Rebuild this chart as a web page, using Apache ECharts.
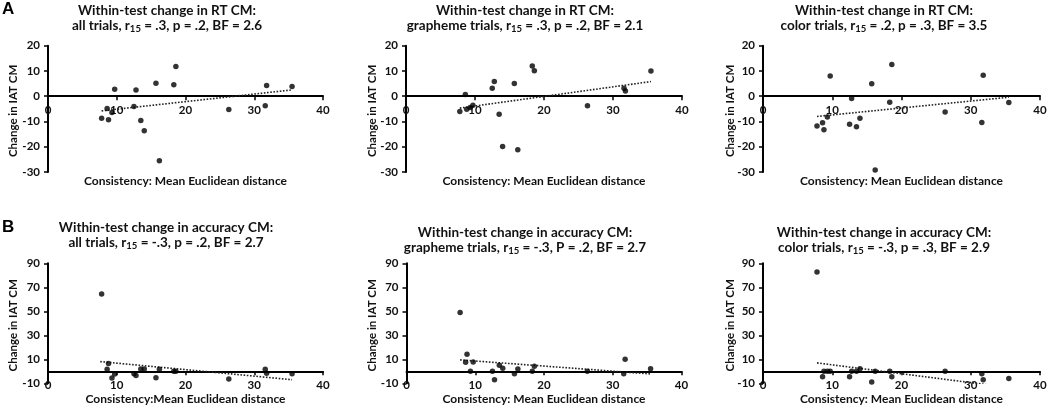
<!DOCTYPE html>
<html><head><meta charset="utf-8">
<script src="https://cdn.jsdelivr.net/npm/echarts@6/dist/echarts.min.js"></script>
<style>html,body{margin:0;padding:0;background:#fff}#c{width:1050px;height:407px}</style>
</head><body><div id="c"></div>
<script>
// Consistency (mean Euclidean distance) per participant
const consistency = [7.8, 8.6, 8.8, 9.3, 9.7, 12.5, 12.8, 13.5, 14.0, 15.7, 16.2, 18.3, 18.6, 26.3, 31.6, 31.8, 35.5];
// Change in IAT CM
const rtAll      = [-8.7, -4.9, -9.3, -6.4, 2.8, -4.1, 2.5, -9.6, -13.7, 5.1, -25.5, 4.5, 11.8, -5.3, -3.8, 4.2, 3.8];
const rtGrapheme = [-6.0, 0.7, -5.2, -4.5, -3.6, 3.2, 5.8, -7.1, -19.9, 5.0, -21.2, 12.0, 10.1, -3.8, 3.2, 2.1, 10.0];
const rtColor    = [-11.8, -10.5, -13.3, -8.2, 8.0, -11.1, -0.9, -12.1, -8.7, 4.9, -29.2, -2.4, 12.6, -6.2, -10.4, 8.3, -2.5];
const accAll      = [64.5, 1.7, 6.4, -5.6, -2.2, -2.0, -3.4, 2.0, 2.0, -5.3, 1.7, 0, 0, -6.4, 1.7, -1.7, -2.0];
const accGrapheme = [48.9, 7.5, 14.2, 0, 7.8, 0, -7.0, 5.0, 2.5, -2.0, 2.0, 0, 4.2, 0, -2.0, 10.0, 2.2];
const accColor    = [82.7, -4.5, 0, 0, 0, -4.5, 0, 0, 2.2, -8.9, 0, 0, -4.5, 0, -2.0, -7.0, -6.1];
// Linear trend line end points [x, y]
const trendRtAll      = [[7.8, -5.8], [35.5, 2.5]];
const trendRtGrapheme = [[7.8, -4.7], [35.5, 5.8]];
const trendRtColor    = [[7.8, -8.0], [35.5, -0.4]];
const trendAccAll      = [[7.6, 8.1], [35.5, -7.0]];
const trendAccGrapheme = [[7.8, 9.5], [35.5, -2.2]];
const trendAccColor    = [[7.8, 7.0], [35.5, -13.5]];
// Axis ticks
const xTicks = [0, 10, 20, 30, 40];
const yTicksRT = [-30, -20, -10, 0, 10, 20];
const yTicksAcc = [-10, 10, 30, 50, 70, 90];
// Titles
const titleLine1 = ['Within-test change in RT CM:', 'Within-test change in RT CM:', 'Within-test change in RT CM:',
  'Within-test change in accuracy CM:', 'Within-test change in accuracy CM:', 'Within-test change in accuracy CM:'];
const titleLine2 = [
  ['all trials, r', '15', ' = .3, p = .2, BF = 2.6'],
  ['grapheme trials, r', '15', ' = .3, p = .2, BF = 2.1'],
  ['color trials, r', '15', ' = .2, p = .3, BF = 3.5'],
  ['all trials, r', '15', ' = -.3, p = .2, BF = 2.7'],
  ['grapheme trials, r', '15', ' = -.3, P = .2, BF = 2.7'],
  ['color trials, r', '15', ' = -.3, p = .3, BF = 2.9']];
const xNames = ['Consistency: Mean Euclidean distance', 'Consistency: Mean Euclidean distance', 'Consistency: Mean Euclidean distance',
  'Consistency:Mean Euclidean distance', 'Consistency: Mean Euclidean distance', 'Consistency: Mean Euclidean distance'];
const yName = 'Change in IAT CM';

const panels = [
  {y: rtAll, t: trendRtAll}, {y: rtGrapheme, t: trendRtGrapheme}, {y: rtColor, t: trendRtColor},
  {y: accAll, t: trendAccAll}, {y: accGrapheme, t: trendAccGrapheme}, {y: accColor, t: trendAccColor}];

const F = 'Lato, "Open Sans", sans-serif';
const ink = '#111';
const layout = [
  {left: 48, top: 45.7, width: 275, height: 126.3, tx: 167, tt: 3, ny: 175, yx: 13},
  {left: 406, top: 45.7, width: 276, height: 126.3, tx: 525, tt: 3, ny: 175, yx: 372},
  {left: 763, top: 45.7, width: 277, height: 126.3, tx: 884, tt: 3, ny: 175, yx: 730},
  {left: 48, top: 263.3, width: 275, height: 120, tx: 166, tt: 220, ny: 393, yx: 13},
  {left: 406.5, top: 263.3, width: 275, height: 120, tx: 525, tt: 225, ny: 393, yx: 372},
  {left: 763, top: 263.3, width: 277, height: 120, tx: 884, tt: 225, ny: 393, yx: 730}];

const grid = [], xAxis = [], yAxis = [], series = [], title = [], graphic = [];
layout.forEach((L, i) => {
  const top = i < 3;
  const yt = top ? yTicksRT : yTicksAcc;
  const yMin = yt[0], yMax = yt[yt.length - 1];
  // place the x axis on the y = 0 line
  const zeroOffset = -L.height * (0 - yMin) / (yMax - yMin);
  grid.push({left: L.left, top: L.top, width: L.width, height: L.height, containLabel: false});
  xAxis.push({
    gridIndex: i, type: 'value', min: 0, max: 40, interval: 10, position: 'bottom', offset: zeroOffset,
    axisLine: {onZero: false, lineStyle: {color: '#000', width: 2}},
    axisTick: {show: true, length: 4, lineStyle: {color: '#000', width: 1.5}, customValues: xTicks},
    axisLabel: {fontFamily: F, fontSize: 11.5, fontWeight: 'bold', color: ink, margin: 8, customValues: xTicks},
    splitLine: {show: false}
  });
  yAxis.push({
    gridIndex: i, type: 'value', min: yMin, max: yMax,
    axisLine: {show: true, onZero: false, lineStyle: {color: '#000', width: 2}},
    axisTick: {show: true, length: 4, lineStyle: {color: '#000', width: 1.5}, customValues: yt},
    axisLabel: {fontFamily: F, fontSize: 11.5, fontWeight: 'bold', color: ink, margin: 8, customValues: yt},
    splitLine: {show: false}
  });
  graphic.push({
    type: 'text', x: L.yx, y: L.top + L.height / 2 + 2, rotation: Math.PI / 2, silent: true,
    style: {text: yName, align: 'center', verticalAlign: 'middle', fill: ink,
      font: 'bold 11.5px ' + F}
  });
  const P = panels[i];
  series.push({
    type: 'line', xAxisIndex: i, yAxisIndex: i, data: P.t, symbol: 'none', clip: true,
    lineStyle: {color: '#222', width: 1.6, type: [1.6, 1.6]}, silent: true, z: 1
  });
  series.push({
    type: 'scatter', xAxisIndex: i, yAxisIndex: i, symbolSize: 5.5,
    data: consistency.map((x, k) => [x, P.y[k]]),
    itemStyle: {color: '#000'}, z: 3
  });
  const l2 = titleLine2[i];
  title.push({
    text: '{b|' + titleLine1[i] + '}\n{b|' + l2[0] + '}{s|' + l2[1] + '}{b|' + l2[2] + '}',
    left: L.tx, top: L.tt, textAlign: 'center', padding: 0,
    textStyle: {rich: {
      b: {fontFamily: F, fontSize: 13.5, fontWeight: 'bold', color: ink, lineHeight: 15},
      s: {fontFamily: F, fontSize: 9.5, fontWeight: 'bold', color: ink, lineHeight: 15, padding: [6, 0, 0, 0]}
    }}
  });
  title.push({
    text: xNames[i], left: L.left + L.width / 2, top: L.ny, textAlign: 'center', padding: 0,
    textStyle: {fontFamily: F, fontSize: 12, fontWeight: 'bold', color: ink}
  });
});
title.push({text: 'A', left: 2, top: 1, padding: 0, textStyle: {fontFamily: 'Liberation Sans, Arial, sans-serif', fontSize: 17, fontWeight: 'bold', color: '#000'}});
title.push({text: 'B', left: 2, top: 219, padding: 0, textStyle: {fontFamily: 'Liberation Sans, Arial, sans-serif', fontSize: 17, fontWeight: 'bold', color: '#000'}});

const chart = echarts.init(document.getElementById('c'), null, {renderer: 'canvas'});
chart.setOption({animation: false, backgroundColor: '#fff', grid, xAxis, yAxis, series, title, graphic});
</script></body></html>
